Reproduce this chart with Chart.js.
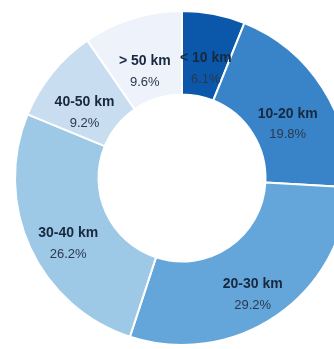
<!DOCTYPE html>
<html>
<head>
<meta charset="utf-8">
<script src="https://cdn.jsdelivr.net/npm/chart.js@4"></script>
<style>
  html, body { margin: 0; padding: 0; background: #fff; overflow: hidden; }
  #wrap { position: relative; width: 364px; height: 349px; }
</style>
</head>
<body>
<div id="wrap"><canvas id="distChart"></canvas></div>
<script>
// Commute distance shares
const categories = ['< 10 km', '10-20 km', '20-30 km', '30-40 km', '40-50 km', '> 50 km'];
const shares = [6.1, 19.8, 29.2, 26.2, 9.2, 9.6];
const sliceColors = ['#0b58aa', '#3984c8', '#64a6d9', '#9dc8e6', '#c9ddf1', '#eef2fb'];

// Writes the category name and percentage in the middle of each slice
const sliceLabels = {
    id: 'sliceLabels',
    afterDatasetsDraw(chart) {
        const ctx = chart.ctx;
        const meta = chart.getDatasetMeta(0);
        ctx.save();
        ctx.textAlign = 'center';
        ctx.textBaseline = 'middle';
        meta.data.forEach((arc, i) => {
            const pos = arc.tooltipPosition();
            ctx.fillStyle = '#18283f';
            ctx.font = 'bold 14px Arial, "Liberation Sans", sans-serif';
            ctx.fillText(categories[i], pos.x, pos.y + 3);
            ctx.fillStyle = '#2a3850';
            ctx.font = '13px Arial, "Liberation Sans", sans-serif';
            ctx.fillText(shares[i].toFixed(1) + '%', pos.x, pos.y + 24);
        });
        ctx.restore();
    }
};

const distCtx = document.getElementById('distChart').getContext('2d');
const distChart = new Chart(distCtx, {
    type: 'doughnut',
    data: {
        labels: categories,
        datasets: [{
            data: shares,
            backgroundColor: sliceColors,
            borderColor: '#ffffff',
            borderWidth: 2
        }]
    },
    options: {
        responsive: true,
        maintainAspectRatio: false,
        animation: false,
        cutout: '50%',
        layout: { padding: { top: 10, bottom: 3 } },
        plugins: {
            legend: { display: false },
            tooltip: { enabled: false }
        }
    },
    plugins: [sliceLabels]
});
</script>
</body>
</html>
